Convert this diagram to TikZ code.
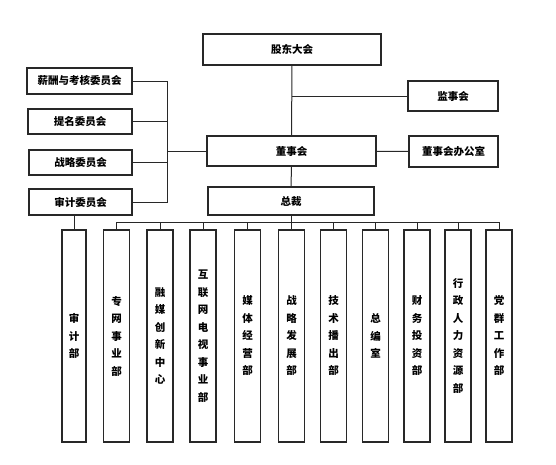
\documentclass[tikz,border=0pt]{standalone}
\usepackage{fontspec}
\usepackage{tikz}
\usetikzlibrary{positioning, calc}
\newfontfamily\cjk{Noto Sans CJK SC}
\definecolor{linegray}{RGB}{40, 40, 40}

\begin{document}
\begin{tikzpicture}[
    x=1pt, y=-1pt,
    unit/.style={rectangle, draw=linegray, line width=1.1pt, fill=white, inner sep=0pt, font=\cjk\bfseries\fontsize{10.5}{12}\selectfont},
    dept/.style={unit, minimum width=26pt, minimum height=212pt, align=center, font=\cjk\bfseries\fontsize{10.5}{17.5}\selectfont},
    link/.style={draw=linegray, line width=1pt}
]
    \useasboundingbox (0,0) rectangle (556,464);

    % Top level
    \node[unit, minimum width=178pt, minimum height=31pt] (meeting) at (292, 49.5) {股东大会};
    \node[unit, minimum width=90pt, minimum height=30pt] (supervisor) at (453, 96) {监事会};
    \node[unit, minimum width=169pt, minimum height=30pt] (board) at (291.5, 151) {董事会};
    \node[unit, minimum width=89pt, minimum height=31pt] (office) at (453.5, 151.5) {董事会办公室};
    \node[unit, minimum width=166pt, minimum height=28pt] (ceo) at (291, 201) {总裁};

    % Committees
    \node[unit, minimum width=105pt, minimum height=26pt] (paycom) at (79.5, 81) {薪酬与考核委员会};
    \node[unit, minimum width=104pt, minimum height=25pt] (namecom) at (80, 121.5) {提名委员会};
    \node[unit, minimum width=103pt, minimum height=25pt] (stratcom) at (80.5, 162.5) {战略委员会};
    \node[unit, minimum width=103pt, minimum height=26pt] (auditcom) at (80.5, 202) {审计委员会};
    \coordinate (comjoin) at (167, 151);

    % Departments
    \node[dept, minimum width=24pt] (audit) at (74, 336) {审\\计\\部};
    \node[dept] (network) at (116.5, 336) {专\\网\\事\\业\\部};
    \node[dept] (media) at (160, 336) {融\\媒\\创\\新\\中\\心};
    \node[dept] (iptv) at (203, 336) {互\\联\\网\\电\\视\\事\\业\\部};
    \node[dept] (sales) at (247.5, 336) {媒\\体\\经\\营\\部};
    \node[dept] (strategy) at (291.5, 336) {战\\略\\发\\展\\部};
    \node[dept] (tech) at (333.5, 336) {技\\术\\播\\出\\部};
    \node[dept] (editor) at (375.5, 336) {总\\编\\室};
    \node[dept] (finance) at (417, 336) {财\\务\\投\\资\\部};
    \node[dept] (hr) at (458, 336) {行\\政\\人\\力\\资\\源\\部};
    \node[dept] (party) at (499, 336) {党\\群\\工\\作\\部};
    \coordinate (bus) at (291, 222);

    % Connections
    \draw[link] (meeting) -- (board);
    \draw[link] (supervisor.west) -- (meeting.south |- supervisor.west);
    \draw[link] (board) -- (office);
    \draw[link] (board) -- (ceo);
    \draw[link] (paycom.east) -| (comjoin);
    \draw[link] (namecom.east) -| (comjoin);
    \draw[link] (stratcom.east) -| (comjoin);
    \draw[link] (auditcom.east) -| (comjoin);
    \draw[link] (comjoin) -- (board.west);
    \draw[link] (audit.north) -- (audit.north |- auditcom.south);
    \draw[link] (ceo.south) -- (bus);
    \draw[link] (bus) -| (network.north);
    \draw[link] (bus) -| (media.north);
    \draw[link] (bus) -| (iptv.north);
    \draw[link] (bus) -| (sales.north);
    \draw[link] (bus) -| (strategy.north);
    \draw[link] (bus) -| (tech.north);
    \draw[link] (bus) -| (editor.north);
    \draw[link] (bus) -| (finance.north);
    \draw[link] (bus) -| (hr.north);
    \draw[link] (bus) -| (party.north);

\end{tikzpicture}
\end{document}
